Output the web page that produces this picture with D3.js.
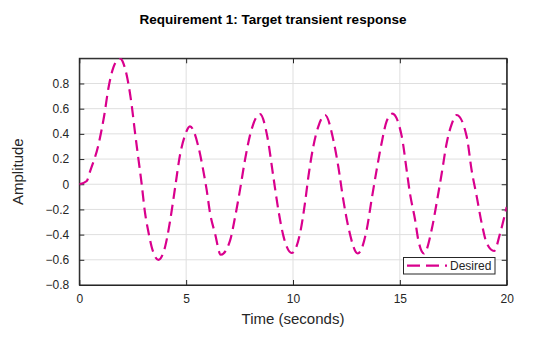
<!DOCTYPE html>
<html>
<head>
<meta charset="utf-8">
<script src="https://cdn.jsdelivr.net/npm/d3@7"></script>
<style>
  html, body { margin: 0; padding: 0; background: #fff; }
  svg { display: block; }
  text { font-family: "Liberation Sans", Arial, sans-serif; fill: #262626; }
</style>
</head>
<body>
<svg id="chart" width="560" height="337"></svg>
<script>
// ---- data ----
const timeValues = [0, 0.35, 0.5, 0.89, 1.17, 1.36, 1.6, 1.9, 2.14, 2.45, 2.6, 2.76, 2.92, 3.07, 3.23, 3.39, 3.7,
  4.01, 4.24, 4.48, 4.71, 4.95, 5.18, 5.57, 5.8, 5.96, 6.12, 6.35, 6.62,
  7.05, 7.29, 7.52, 7.75, 7.99, 8.46, 8.8, 9.08, 9.31, 9.55, 9.94,
  10.33, 10.56, 10.72, 10.95, 11.18, 11.5, 11.89, 12.12, 12.35, 12.59, 13.03,
  13.45, 13.68, 13.91, 14.15, 14.38, 14.65, 15.09, 15.32, 15.47, 15.71, 15.86, 16.13,
  16.49, 16.72, 16.96, 17.19, 17.43, 17.66, 18.13, 18.36, 18.6, 18.83, 19.07, 19.41,
  19.69, 20];
const desiredValues = [0, 0.026, 0.1, 0.31, 0.55, 0.76, 0.93, 1.0, 0.92, 0.63, 0.42, 0.21, 0.0, -0.22, -0.375, -0.5, -0.6,
  -0.5, -0.3, -0.03, 0.23, 0.39, 0.46, 0.30, 0.11, -0.045, -0.23, -0.39, -0.56,
  -0.45, -0.26, -0.045, 0.19, 0.39, 0.557, 0.377, 0.06, -0.2, -0.41, -0.546,
  -0.39, -0.15, 0.06, 0.30, 0.456, 0.55, 0.35, 0.14, -0.12, -0.34, -0.55,
  -0.36, -0.12, 0.11, 0.33, 0.5, 0.56, 0.38, 0.11, -0.07, -0.28, -0.44, -0.55,
  -0.36, -0.15, 0.087, 0.325, 0.48, 0.55, 0.377, 0.11, -0.1, -0.31, -0.47, -0.53,
  -0.39, -0.18];
const xTicks = [0, 5, 10, 15, 20];
const yTicks = [-0.8, -0.6, -0.4, -0.2, 0, 0.2, 0.4, 0.6, 0.8];
const seriesName = "Desired";
const titleText = "Requirement 1: Target transient response";
const xLabel = "Time (seconds)";
const yLabel = "Amplitude";

// ---- layout ----
const svg = d3.select("#chart");
const mLeft = 79.3, mRight = 506.7, mTop = 58.3, mBottom = 285;
const x = d3.scaleLinear().domain([0, 20]).range([mLeft, mRight]);
const y = d3.scaleLinear().domain([-0.8, 1.0]).range([mBottom, mTop]);
const axisColor = "#262626";

// grid
const grid = svg.append("g");
grid.selectAll(".gx").data(xTicks).join("line")
  .attr("x1", d => x(d)).attr("x2", d => x(d)).attr("y1", mTop).attr("y2", mBottom)
  .attr("stroke", "#dfdfdf").attr("stroke-width", 1);
grid.selectAll(".gy").data(yTicks).join("line")
  .attr("x1", mLeft).attr("x2", mRight).attr("y1", d => y(d)).attr("y2", d => y(d))
  .attr("stroke", "#dfdfdf").attr("stroke-width", 1);

// axes
const xAxisB = d3.axisBottom(x).tickValues(xTicks).tickSizeInner(-5).tickSizeOuter(0).tickPadding(9).tickFormat(d3.format("d"));
const xAxisT = d3.axisTop(x).tickValues(xTicks).tickSizeInner(-5).tickSizeOuter(0).tickFormat("");
const yAxisL = d3.axisLeft(y).tickValues(yTicks).tickSizeInner(-5).tickSizeOuter(0).tickPadding(10).tickFormat(d => d === 0 ? "0" : d3.format(".1f")(d));
const yAxisR = d3.axisRight(y).tickValues(yTicks).tickSizeInner(-5).tickSizeOuter(0).tickFormat("");

function styleAxis(g) {
  g.selectAll("path").attr("stroke", axisColor);
  g.selectAll("line").attr("stroke", axisColor);
  g.selectAll("text").attr("fill", axisColor).style("font-size", "12px")
    .style("font-family", '"Liberation Sans", Arial, sans-serif');
}
svg.append("g").attr("transform", `translate(0,${mBottom})`).call(xAxisB).call(styleAxis);
svg.append("g").attr("transform", `translate(0,${mTop})`).call(xAxisT).call(styleAxis);
svg.append("g").attr("transform", `translate(${mLeft},0)`).call(yAxisL).call(styleAxis);
svg.append("g").attr("transform", `translate(${mRight},0)`).call(yAxisR).call(styleAxis);

// box
svg.append("rect").attr("x", mLeft).attr("y", mTop).attr("width", mRight - mLeft).attr("height", mBottom - mTop)
  .attr("fill", "none").attr("stroke", axisColor).attr("stroke-width", 1);

// clip
svg.append("clipPath").attr("id", "clip").append("rect")
  .attr("x", mLeft).attr("y", mTop).attr("width", mRight - mLeft).attr("height", mBottom - mTop);

// line
const data = timeValues.map((t, i) => ({ t, v: desiredValues[i] }));
const lineGen = d3.line().x(d => x(d.t)).y(d => y(d.v)).curve(d3.curveMonotoneX);
const lineColor = "#d9008d";
svg.append("path").datum(data).attr("d", lineGen).attr("clip-path", "url(#clip)")
  .attr("fill", "none").attr("stroke", lineColor).attr("stroke-width", 2.2)
  .attr("stroke-dasharray", "11,6");

// title
svg.append("text").attr("x", 273).attr("y", 24).attr("text-anchor", "middle")
  .style("font-size", "13.5px").style("font-weight", "bold").style("fill", "#000")
  .text(titleText);

// axis labels
svg.append("text").attr("x", (mLeft + mRight) / 2).attr("y", 324).attr("text-anchor", "middle")
  .style("font-size", "15px").text(xLabel);
svg.append("text").attr("transform", `translate(23,${(mTop + mBottom) / 2}) rotate(-90)`)
  .attr("text-anchor", "middle").style("font-size", "15px").text(yLabel);

// legend
const lg = svg.append("g");
lg.append("rect").attr("x", 403.5).attr("y", 257.5).attr("width", 91.5).attr("height", 16.5)
  .attr("fill", "#fff").attr("stroke", axisColor).attr("stroke-width", 1);
lg.append("line").attr("x1", 407).attr("x2", 447).attr("y1", 265.7).attr("y2", 265.7)
  .attr("stroke", lineColor).attr("stroke-width", 2.2).attr("stroke-dasharray", "13,6");
lg.append("text").attr("x", 450).attr("y", 270).style("font-size", "12px").text(seriesName);
</script>
</body>
</html>
